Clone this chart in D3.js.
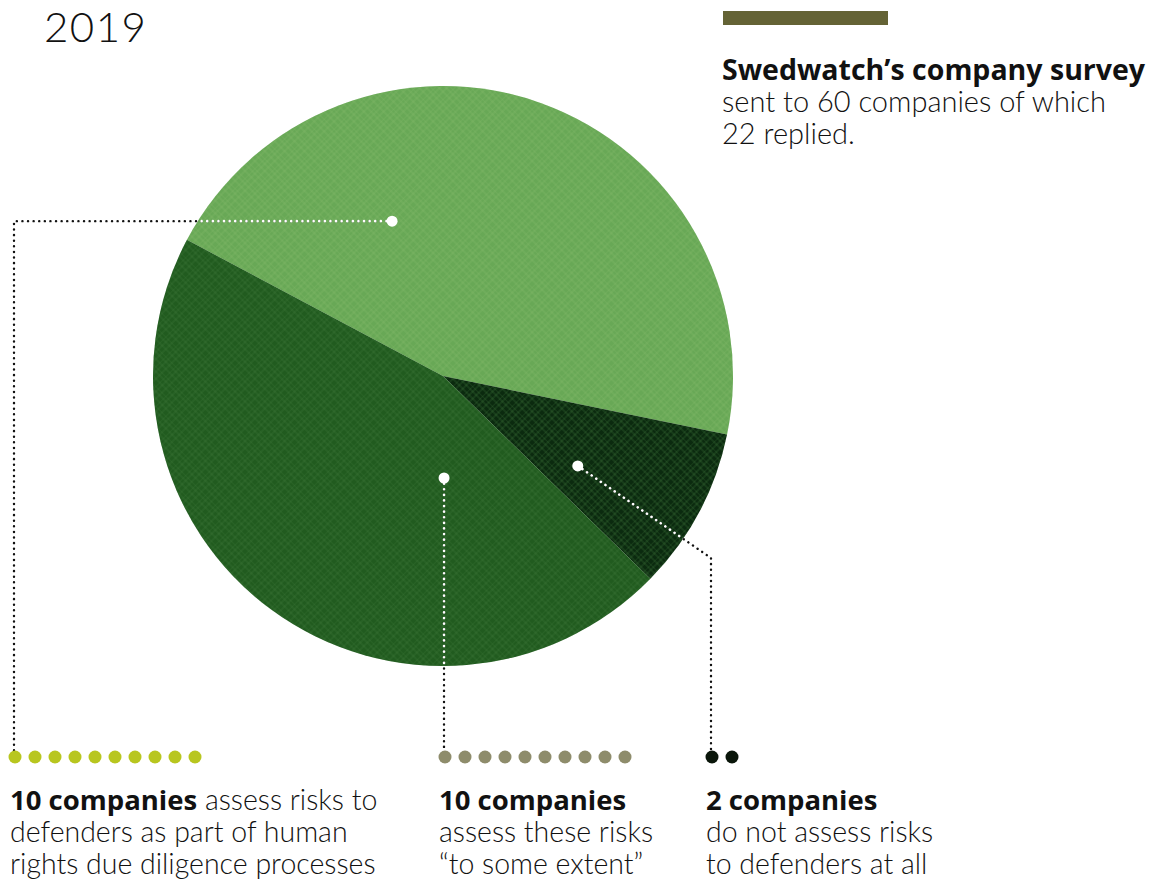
<!DOCTYPE html>
<html><head><meta charset="utf-8">
<script src="https://cdn.jsdelivr.net/npm/d3@7"></script>
<style>
html,body{margin:0;padding:0;background:#fff;}
text{font-family:Lato,"Open Sans",sans-serif;}
.b{font-family:"Open Sans",Lato,sans-serif;font-weight:700;}
.r{font-family:Lato,sans-serif;font-weight:300;}
</style></head>
<body>
<svg id="c" width="1157" height="882"></svg>
<script>
// ---- data ----
const year = "2019";
const sliceNames = ["assess as part of HRDD", "do not assess", "assess to some extent"]; // pie order (clockwise)
const sliceValues = [10, 2, 10];
const sliceColors = ["#68a856", "#0b2a0f", "#215b1f"];
const legendSlices = [0, 2, 1]; // legend column order -> slice index
const dotColors = ["#b8c61f", "#8e8c6b", "#0a160a"];
const legendBold = ["10 companies", "10 companies", "2 companies"];
const legendLines = [
  [" assess risks to", "defenders as part of human", "rights due diligence processes"],
  ["assess these risks", "\u201cto some extent\u201d"],
  ["do not assess risks", "to defenders at all"]
];
const surveyTitle = "Swedwatch\u2019s company survey";
const surveyLines = ["sent to 60 companies of which", "22 replied."];

// ---- layout ----
const svg = d3.select("#c");
const cx = 443, cy = 376, R = 290;
const startDeg = -62;
const pie = d3.pie().sort(null).value(d => d)
  .startAngle(startDeg * Math.PI / 180).endAngle(startDeg * Math.PI / 180 + 2 * Math.PI);
const arcs = pie(sliceValues);
const arc = d3.arc().innerRadius(0).outerRadius(R);

const defs = svg.append("defs");
// crosshatch texture
function hatch(id, col, op) {
  const p = defs.append("pattern").attr("id", id).attr("patternUnits", "userSpaceOnUse")
    .attr("width", 14).attr("height", 14).attr("patternTransform", "rotate(45)");
  [0, 4, 9].forEach(v => {
    p.append("line").attr("x1", v).attr("y1", 0).attr("x2", v).attr("y2", 14).attr("stroke", col).attr("stroke-width", 1).attr("opacity", op);
    p.append("line").attr("x1", 0).attr("y1", v).attr("x2", 14).attr("y2", v).attr("stroke", col).attr("stroke-width", 1).attr("opacity", op);
  });
}
hatch("hatchL", "#86bd6e", 0.45);
hatch("hatchD", "#3f7a3a", 0.45);
const rg = defs.append("radialGradient").attr("id", "shade").attr("gradientUnits", "userSpaceOnUse")
  .attr("cx", cx - 90).attr("cy", cy + 110).attr("r", 240);
rg.append("stop").attr("offset", "0").attr("stop-color", "#000").attr("stop-opacity", 0.15);
rg.append("stop").attr("offset", "1").attr("stop-color", "#000").attr("stop-opacity", 0);
defs.append("clipPath").attr("id", "pieclip").append("circle").attr("cx", cx).attr("cy", cy).attr("r", R);

const g = svg.append("g").attr("transform", `translate(${cx},${cy})`);
g.selectAll("path.s").data(arcs).enter().append("path").attr("class", "s")
  .attr("d", arc).attr("fill", (d, i) => sliceColors[i]);
g.selectAll("path.h").data(arcs).enter().append("path").attr("class", "h")
  .attr("d", arc).attr("fill", (d, i) => i === 0 ? "url(#hatchL)" : "url(#hatchD)");
g.append("path").attr("d", arc(arcs[2])).attr("fill", "url(#shade)");

// title
svg.append("text").attr("class", "r").attr("x", 44).attr("y", 42).attr("font-size", 42)
  .attr("letter-spacing", 1.5).attr("fill", "#111").text(year);

// survey note
svg.append("rect").attr("x", 723).attr("y", 11).attr("width", 165).attr("height", 14).attr("fill", "#646335");
const st = svg.append("text").attr("x", 722).attr("y", 80).attr("fill", "#111");
st.append("tspan").attr("class", "b").attr("font-size", 28.5).text(surveyTitle);
surveyLines.forEach((t, i) => st.append("tspan").attr("class", "r").attr("x", 722).attr("y", 112 + 32 * i)
  .attr("font-size", 29).text(t));

// annotations: anchor polar coords (d3 angle deg, radius), leader path, legend column x
const rowY = 757;
const colX = [14, 444, 711];
function polar(aDeg, r) { const a = aDeg * Math.PI / 180; return [cx + r * Math.sin(a), cy - r * Math.cos(a)]; }
const anchors = [polar(-18.2, 163), polar(179.4, 102), polar(123.7, 162)];
const leaders = [
  [anchors[0], [colX[0], anchors[0][1]], [colX[0], rowY]],
  [anchors[1], [colX[1], rowY]],
  [anchors[2], [colX[2], 558], [colX[2], rowY]]
];
const line = d3.line();
const lg = svg.append("g");
leaders.forEach(pts => {
  lg.append("path").attr("d", line(pts)).attr("fill", "none").attr("stroke", "#111")
    .attr("stroke-width", 2.4).attr("stroke-linecap", "round").attr("stroke-dasharray", "0.1 5.5");
  lg.append("path").attr("d", line(pts)).attr("fill", "none").attr("stroke", "#fff")
    .attr("clip-path", "url(#pieclip)")
    .attr("stroke-width", 2.6).attr("stroke-linecap", "round").attr("stroke-dasharray", "0.1 5.5");
});
anchors.forEach(p => svg.append("circle").attr("cx", p[0]).attr("cy", p[1]).attr("r", 5.5).attr("fill", "#fff"));

// dot rows
legendSlices.forEach((si, k) => {
  const n = sliceValues[si];
  const x = d3.scaleLinear().domain([0, 1]).range([colX[k] + 1, colX[k] + 21]);
  svg.selectAll(null).data(d3.range(n)).enter().append("circle")
    .attr("cx", d => x(d)).attr("cy", rowY).attr("r", 6.5).attr("fill", dotColors[k]);
});

// legend text (one text element per block)
const tx = [10, 439, 706];
const fsR = 28.5, fsB = 27.5;
legendSlices.forEach((si, k) => {
  const lines = legendLines[k];
  const t = svg.append("text").attr("x", tx[k]).attr("y", 810).attr("fill", "#111");
  t.append("tspan").attr("class", "b").attr("font-size", fsB).text(legendBold[k]);
  let rest = lines;
  if (k === 0) { t.append("tspan").attr("class", "r").attr("font-size", fsR).text(lines[0]); rest = lines.slice(1); }
  rest.forEach((l, i) => t.append("tspan").attr("class", "r").attr("x", tx[k]).attr("y", 842 + 32 * i)
    .attr("font-size", fsR).text(l));
});
</script>
</body></html>
